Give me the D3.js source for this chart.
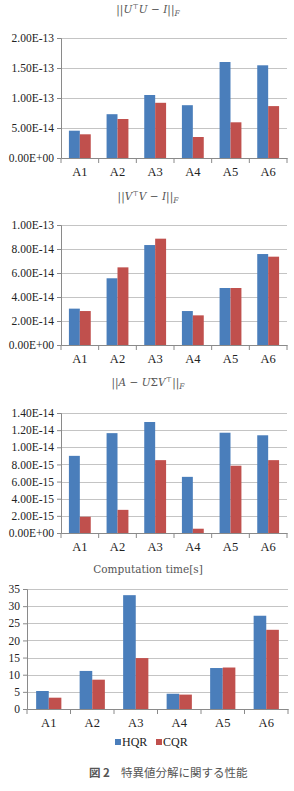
<!DOCTYPE html>
<head>
  <meta charset="utf-8">
  <script src="https://d3js.org/d3.v7.min.js"></script>
  <style>
  body { margin: 0; background: #fff; }
  .grid line { stroke: #c4c4c4; stroke-width: 1px; }
  .title { font-family: "DejaVu Serif", serif; font-size: 10.5px; fill: #555; }
  </style>
</head>
<body>
  <script>
    // data
    var categories = ["A1", "A2", "A3", "A4", "A5", "A6"];
    var seriesNames = ["HQR", "CQR"];
    var colors = ["#4a7ebb", "#c0504d"];

    // ||U^T U - I||_F
    var orthoU_HQR = [4.55e-14, 7.3e-14, 1.05e-13, 8.8e-14, 1.60e-13, 1.545e-13];
    var orthoU_CQR = [3.95e-14, 6.5e-14, 9.2e-14, 3.5e-14, 5.95e-14, 8.65e-14];
    var orthoU_ticks = [0, 5e-14, 1e-13, 1.5e-13, 2e-13];

    // ||V^T V - I||_F
    var orthoV_HQR = [3.03e-14, 5.56e-14, 8.33e-14, 2.83e-14, 4.75e-14, 7.58e-14];
    var orthoV_CQR = [2.83e-14, 6.47e-14, 8.86e-14, 2.47e-14, 4.75e-14, 7.36e-14];
    var orthoV_ticks = [0, 2e-14, 4e-14, 6e-14, 8e-14, 1e-13];

    // ||A - U S V^T||_F
    var resid_HQR = [9.0e-15, 1.165e-14, 1.295e-14, 6.55e-15, 1.17e-14, 1.14e-14];
    var resid_CQR = [1.9e-15, 2.7e-15, 8.5e-15, 5.0e-16, 7.85e-15, 8.5e-15];
    var resid_ticks = [0, 2e-15, 4e-15, 6e-15, 8e-15, 1e-14, 1.2e-14, 1.4e-14];

    // computation time [s]
    var time_HQR = [5.25, 11.1, 33.2, 4.45, 11.95, 27.2];
    var time_CQR = [3.3, 8.55, 14.85, 4.2, 12.1, 23.1];
    var time_ticks = [0, 5, 10, 15, 20, 25, 30, 35];

    var W = 294, H = 791;
    var serif = "'Liberation Serif', 'Times New Roman', serif";
    var svg = d3.select("body").append("svg")
        .attr("width", W)
        .attr("height", H);

    // excel style exponent label, e.g. 2.00E-13
    function sciFormat(d) {
      var s = d.toExponential(2).toUpperCase();
      return s.replace(/E([+-])(\d)$/, "E$10$2");
    }

    // title pieces: [text, italic, kind] kind: sup / sub / back (return to baseline)
    function drawTitle(y, parts) {
      var t = svg.append("text")
          .attr("class", "title")
          .attr("x", W / 2 + 1)
          .attr("y", y)
          .attr("text-anchor", "middle");
      parts.forEach(function(p) {
        var s = t.append("tspan").text(p[0]);
        if (p[1]) s.attr("font-style", "italic");
        if (p[2] == "sup") s.attr("font-size", "7px").attr("dy", -4);
        if (p[2] == "sub") s.attr("font-size", "7.5px").attr("dy", 2.5);
        if (p[2] == "back") s.attr("dy", 4);
      });
    }

    function drawChart(cfg) {
      var x = d3.scaleBand()
          .domain(categories)
          .range([cfg.x0, cfg.x1]);
      var bw = x.bandwidth();
      var xs = d3.scaleBand()
          .domain(seriesNames)
          .range([bw * 0.21, bw * 0.79]);
      var y = d3.scaleLinear()
          .domain([0, cfg.ticks[cfg.ticks.length - 1]])
          .range([cfg.bottom, cfg.top]);

      // gridlines
      svg.append("g")
        .attr("class", "grid")
        .selectAll("line")
        .data(cfg.ticks.slice(1))
        .enter().append("line")
        .attr("x1", cfg.x0)
        .attr("x2", cfg.x1)
        .attr("y1", function(d) { return Math.round(y(d)) + 0.5; })
        .attr("y2", function(d) { return Math.round(y(d)) + 0.5; });

      // bars
      var groups = svg.append("g")
        .selectAll("g")
        .data(categories)
        .enter().append("g")
        .attr("transform", function(d) { return "translate(" + x(d) + ",0)"; });
      groups.selectAll("rect")
        .data(function(d, i) {
          return seriesNames.map(function(s, j) { return {s: s, v: cfg.values[j][i], c: colors[j]}; });
        })
        .enter().append("rect")
        .attr("x", function(d) { return xs(d.s); })
        .attr("width", xs.bandwidth())
        .attr("y", function(d) { return y(d.v); })
        .attr("height", function(d) { return cfg.bottom - y(d.v); })
        .attr("fill", function(d) { return d.c; });

      // y axis
      var yAxis = svg.append("g")
        .attr("transform", "translate(" + cfg.x0 + ",0)")
        .call(d3.axisLeft(y).tickValues(cfg.ticks).tickFormat(cfg.fmt).tickSize(4).tickPadding(3));
      yAxis.selectAll("text")
        .style("font-family", serif)
        .style("font-size", cfg.yFont)
        .style("fill", "#222");

      // x axis, ticks at category boundaries
      var xAxis = svg.append("g")
        .attr("transform", "translate(0," + cfg.bottom + ")")
        .call(d3.axisBottom(x).tickSize(0).tickPadding(9));
      xAxis.selectAll("text")
        .style("font-family", serif)
        .style("font-size", "12.5px")
        .style("fill", "#222");
      xAxis.selectAll(".bound")
        .data(d3.range(categories.length + 1))
        .enter().append("line")
        .attr("x1", function(i) { return cfg.x0 + i * bw; })
        .attr("x2", function(i) { return cfg.x0 + i * bw; })
        .attr("y1", 0)
        .attr("y2", 5);

      yAxis.selectAll(".domain, .tick line").attr("stroke", "#8a8a8a");
      xAxis.selectAll(".domain, line").attr("stroke", "#8a8a8a");
    }

    drawTitle(13, [["||"], ["U", 1], ["\u22a4", 0, "sup"], ["U", 1, "back"], [" \u2212 "], ["I", 1], ["||"], ["F", 1, "sub"]]);
    drawChart({x0: 61, x1: 287, top: 38, bottom: 158, ticks: orthoU_ticks, fmt: sciFormat, yFont: "11.5px",
               values: [orthoU_HQR, orthoU_CQR]});

    drawTitle(200, [["||"], ["V", 1], ["\u22a4", 0, "sup"], ["V", 1, "back"], [" \u2212 "], ["I", 1], ["||"], ["F", 1, "sub"]]);
    drawChart({x0: 61, x1: 287, top: 225, bottom: 345, ticks: orthoV_ticks, fmt: sciFormat, yFont: "11.5px",
               values: [orthoV_HQR, orthoV_CQR]});

    drawTitle(386, [["||"], ["A", 1], [" \u2212 "], ["U", 1], ["\u03a3"], ["V", 1], ["\u22a4", 0, "sup"], ["||", 0, "back"], ["F", 1, "sub"]]);
    drawChart({x0: 61, x1: 287, top: 413, bottom: 533, ticks: resid_ticks, fmt: sciFormat, yFont: "11.5px",
               values: [resid_HQR, resid_CQR]});

    drawTitle(573, [["Computation time[s]"]]);
    drawChart({x0: 27, x1: 288, top: 589, bottom: 709, ticks: time_ticks, fmt: d3.format("d"), yFont: "11.5px",
               values: [time_HQR, time_CQR]});

    // legend
    var legend = svg.append("g").attr("transform", "translate(115,742)");
    seriesNames.forEach(function(s, i) {
      var g = legend.append("g").attr("transform", "translate(" + (i * 41) + ",0)");
      g.append("rect").attr("x", 0).attr("y", -3).attr("width", 6).attr("height", 6).attr("fill", colors[i]);
      g.append("text").attr("x", 7).attr("y", 4)
        .style("font-family", serif).style("font-size", "12px").style("fill", "#222")
        .text(s);
    });

    // caption
    var cap = svg.append("text")
      .attr("x", 89).attr("y", 777)
      .style("font-family", "'Noto Sans CJK JP', sans-serif").style("font-size", "11.5px").style("fill", "#555");
    cap.append("tspan").attr("font-weight", "bold").text("図 2");
    cap.append("tspan").attr("dx", 11).text("特異値分解に関する性能");
  </script>
</body>
